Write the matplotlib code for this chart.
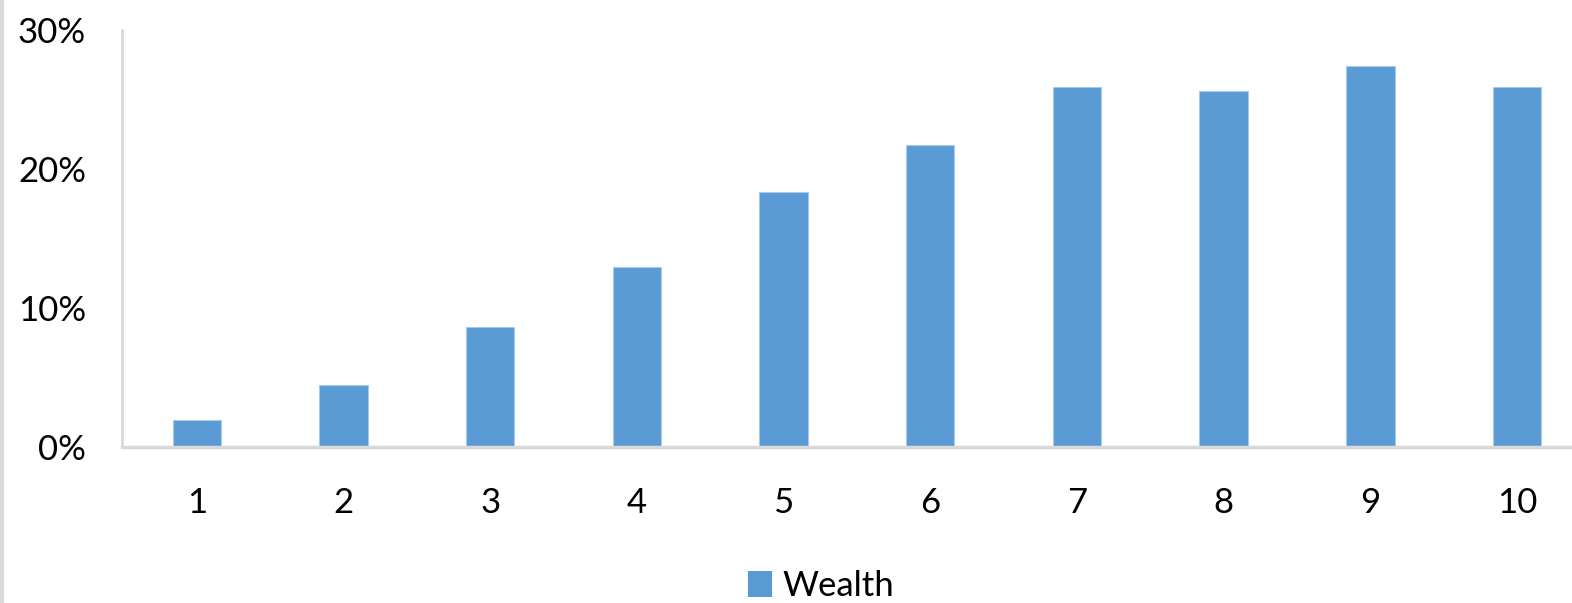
import matplotlib
matplotlib.use('Agg')
import matplotlib.pyplot as plt
from matplotlib.lines import Line2D
from matplotlib.patches import Patch

# decile groups and wealth share (%)
groups = [1, 2, 3, 4, 5, 6, 7, 8, 9, 10]
wealth = [1.9, 4.4, 8.6, 12.9, 18.3, 21.7, 25.9, 25.6, 27.4, 25.9]
y_ticks = [0, 10, 20, 30]
y_labels = ['0%', '10%', '20%', '30%']

plt.rcParams['font.family'] = ['Lato', 'DejaVu Sans']

fig = plt.figure(figsize=(15.72, 6.03), dpi=100)
ax = fig.add_axes([122 / 1572, 1 - 446.5 / 603, 1 - 122 / 1572, (446.5 - 30) / 603])

bar_color = '#5b9bd5'
ax.bar(groups, wealth, width=0.33, color=bar_color, edgecolor='#a9c9ea', linewidth=0.8)

ax.set_xlim(0.49, 10.375)
ax.set_ylim(0, 30)
ax.set_yticks(y_ticks)
ax.set_yticklabels(y_labels)
ax.set_xticks(groups)
ax.set_xticklabels([str(g) for g in groups])

ax.tick_params(axis='both', length=0, labelsize=25, colors='black')
ax.tick_params(axis='y', pad=26)
ax.tick_params(axis='x', pad=29)

for s in ['top', 'right']:
    ax.spines[s].set_visible(False)
ax.spines['left'].set_color('#d9d9d9')
ax.spines['bottom'].set_color('#d9d9d9')
ax.spines['left'].set_linewidth(2)
ax.spines['bottom'].set_linewidth(2.5)

# legend at the bottom
handle = Patch(facecolor=bar_color, edgecolor='none')
fig.legend([handle], ['Wealth'], loc='center', bbox_to_anchor=(821 / 1572, 1 - 586 / 603),
           frameon=False, fontsize=25, handlelength=0.68, handleheight=0.8,
           handletextpad=0.3, borderpad=0)

# grey border on the left edge
fig.add_artist(Line2D([2 / 1572, 2 / 1572], [0, 1], color='#d9d9d9', linewidth=3,
                      transform=fig.transFigure))

fig.savefig('out.png', dpi=100)
